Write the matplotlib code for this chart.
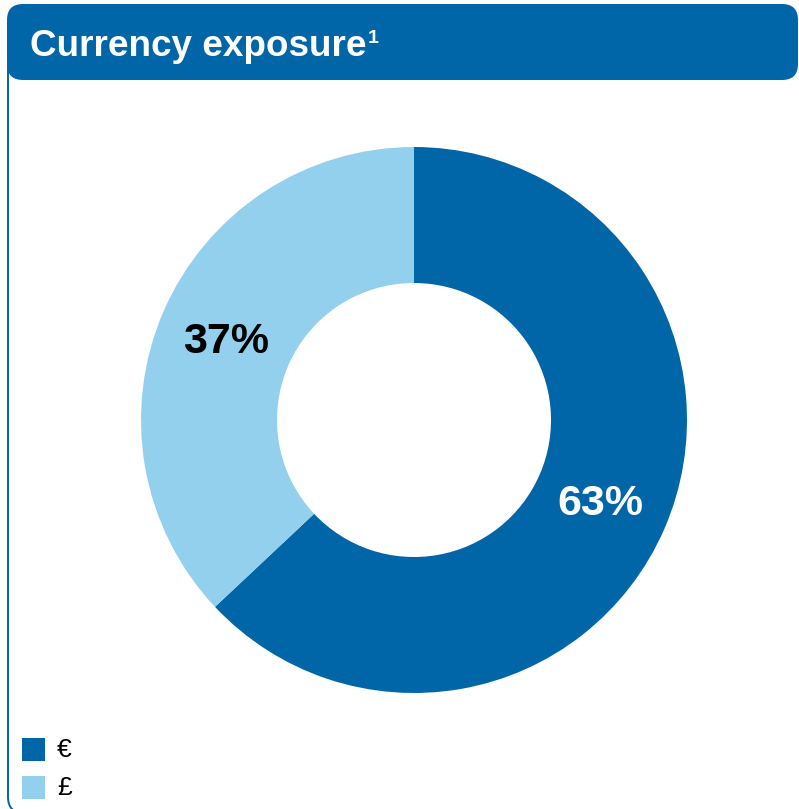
import matplotlib
matplotlib.use("Agg")
import matplotlib.pyplot as plt
from matplotlib.patches import FancyBboxPatch, Rectangle

title = "Currency exposure"
title_sup = "1"
categories = ["€", "£"]
values = [63, 37]
labels = ["63%", "37%"]
colors = ["#0066A8", "#92D0EE"]
label_colors = ["white", "black"]

W, H = 799, 809
fig = plt.figure(figsize=(W / 100, H / 100), dpi=100)
ax = fig.add_axes([0, 0, 1, 1])
ax.set_xlim(0, W)
ax.set_ylim(0, H)
ax.set_aspect("equal")
ax.axis("off")

def Y(y):
    return H - y

FONT = "Liberation Sans"
dark = colors[0]

# card outline (left border, rounded bottom)
card = FancyBboxPatch((8, Y(813)), 900, 763, boxstyle="round,pad=0,rounding_size=16",
                      facecolor="none", edgecolor=dark, linewidth=1.4, zorder=1)
ax.add_patch(card)
clip = Rectangle((0, 0), 780, H, transform=ax.transData)
card.set_clip_path(clip)

# header bar
hdr = FancyBboxPatch((7, Y(80)), 791, 76, boxstyle="round,pad=0,rounding_size=16",
                     facecolor=dark, edgecolor="none", zorder=2)
ax.add_patch(hdr)
t = ax.text(30, Y(56), title, color="white", fontsize=26.6, fontweight="bold",
            family=FONT, va="baseline", ha="left", zorder=3)
fig.canvas.draw()
bb = t.get_window_extent()
ax.text(bb.x1 + 1, Y(43), title_sup, color="white", fontsize=14, fontweight="bold",
        family=FONT, va="baseline", ha="left", zorder=3)

# donut
cx, cy, R = 414, Y(420), 273
wedges, _ = ax.pie(values, colors=colors, startangle=90, counterclock=False,
                   center=(cx, cy), radius=R,
                   wedgeprops=dict(width=136, edgecolor="none", linewidth=0))
ax.set_xlim(0, W)
ax.set_ylim(0, H)
ax.set_aspect("equal")

label_pos = [(600, Y(504)), (226, Y(342))]
for (x, y), lab, c in zip(label_pos, labels, label_colors):
    ax.text(x, y, lab, color=c, fontsize=31, fontweight="bold", family=FONT,
            ha="center", va="center", zorder=5)

# legend
leg_y = [749, 787]
for yy, cat, col in zip(leg_y, categories, colors):
    ax.add_patch(Rectangle((22, Y(yy) - 11.5), 23, 23, facecolor=col, edgecolor="none", zorder=3))
    ax.text(57, Y(yy + 1), cat, color="black", fontsize=19, family=FONT,
            ha="left", va="center", zorder=3)

fig.savefig("out.png", dpi=100, facecolor="white")
